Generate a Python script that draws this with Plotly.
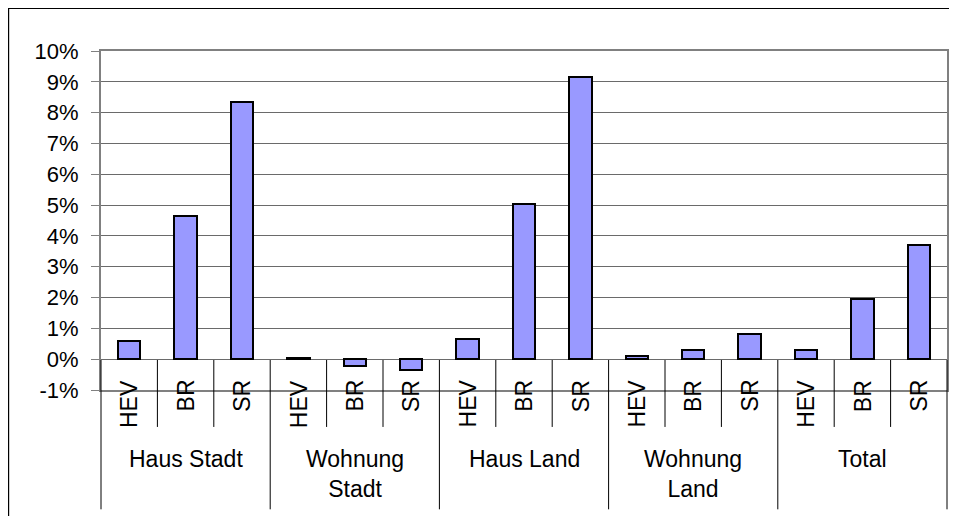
import plotly.graph_objects as go

groups = ["Haus Stadt", "Wohnung<br>Stadt", "Haus Land", "Wohnung<br>Land", "Total"]
subcats = ["HEV", "BR", "SR"]
haus_stadt = [0.0059, 0.0466, 0.0835]
wohnung_stadt = [0.0005, -0.0021, -0.0035]
haus_land = [0.0067, 0.0503, 0.0917]
wohnung_land = [0.0010, 0.0030, 0.0082]
total = [0.0030, 0.0196, 0.0369]
y_ticks = [-0.01, 0.0, 0.01, 0.02, 0.03, 0.04, 0.05, 0.06, 0.07, 0.08, 0.09, 0.10]
y_tick_labels = ["-1%", "0%", "1%", "2%", "3%", "4%", "5%", "6%", "7%", "8%", "9%", "10%"]

series = [haus_stadt, wohnung_stadt, haus_land, wohnung_land, total]
values = [v for s in series for v in s]
n = len(values)
xpos = [i + 0.5 for i in range(n)]

FONT = "Liberation Sans, Arial, sans-serif"

fig = go.Figure()
fig.add_trace(go.Bar(
    x=xpos, y=values, width=0.4,
    marker=dict(color="#9999FF", line=dict(color="black", width=2)),
    showlegend=False, hoverinfo="skip",
))

shapes = []
annotations = []
for i in range(n + 1):
    is_group = (i % 3 == 0)
    shapes.append(dict(
        type="line", xref="x domain", yref="paper",
        x0=i / n, x1=i / n,
        y0=0.0885, y1=(-0.352 if is_group else -0.109),
        line=dict(color="black", width=1),
    ))
for i, v in enumerate(values):
    annotations.append(dict(
        x=xpos[i], xref="x", y=0.036, yref="paper",
        text=subcats[i % 3], textangle=-90, showarrow=False,
        xanchor="center", yanchor="top",
        font=dict(family=FONT, size=23, color="black"),
    ))
for g, name in enumerate(groups):
    annotations.append(dict(
        x=(g * 3 + 1.5), xref="x", y=-0.158, yref="paper",
        text=name, showarrow=False, xanchor="center", yanchor="top",
        font=dict(family=FONT, size=23, color="black"),
    ))
# outer chart border (top and left visible)
shapes.append(dict(type="line", xref="paper", yref="paper",
                   x0=-0.1097, x1=1.02, y0=1.1268, y1=1.1268,
                   line=dict(color="black", width=2)))
shapes.append(dict(type="line", xref="paper", yref="paper",
                   x0=-0.1097, x1=-0.1097, y0=1.1268, y1=-0.4,
                   line=dict(color="black", width=2)))

fig.update_layout(
    width=949, height=508,
    margin=dict(l=93, r=8, t=43, b=126),
    paper_bgcolor="white", plot_bgcolor="white",
    shapes=shapes, annotations=annotations,
    bargap=0,
    font=dict(family=FONT, color="black"),
)
fig.update_xaxes(range=[0, n], showticklabels=False, showgrid=False, zeroline=False,
                 showline=True, linecolor="#808080", linewidth=2, mirror=True, ticks="")
fig.update_yaxes(range=[-0.01, 0.10], tickvals=y_ticks, ticktext=y_tick_labels,
                 showgrid=True, gridcolor="#6a6a6a", gridwidth=1,
                 zeroline=True, zerolinecolor="#6a6a6a", zerolinewidth=1,
                 showline=True, linecolor="#808080", linewidth=2, mirror=True,
                 ticks="outside", ticklen=8, tickcolor="#808080", tickwidth=1,
                 ticklabelstandoff=8,
                 tickfont=dict(family=FONT, size=22, color="black"))

fig.write_html("out.html")
